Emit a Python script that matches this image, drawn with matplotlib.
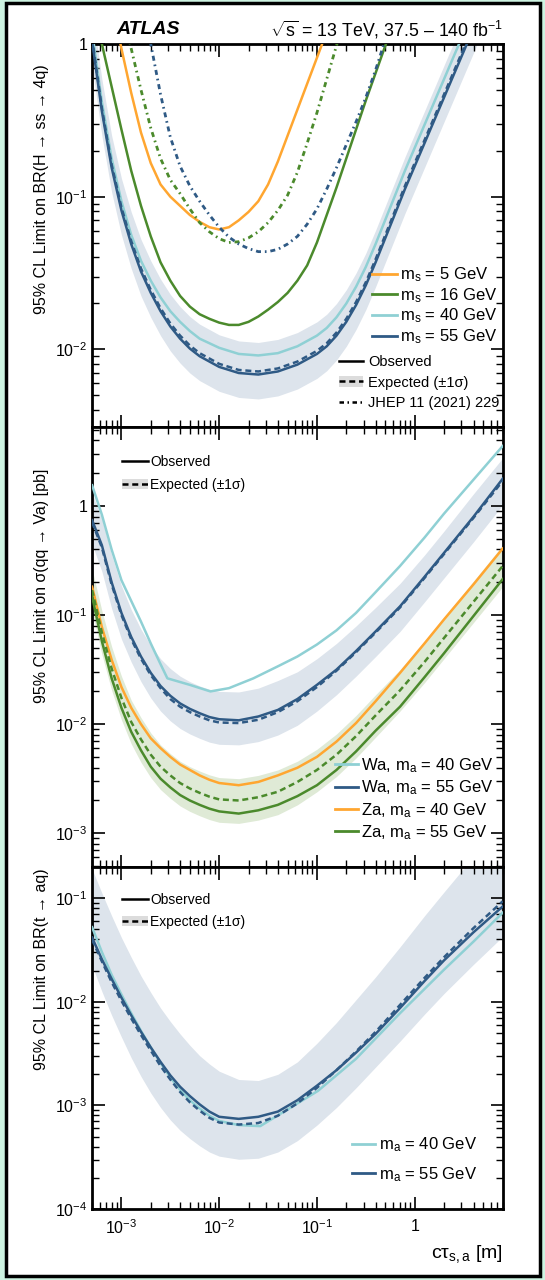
import numpy as np
import matplotlib
matplotlib.use("Agg")
import matplotlib.pyplot as plt
import matplotlib.ticker as mticker
from matplotlib.patches import Patch, Rectangle
from matplotlib.lines import Line2D

plt.rcParams['font.family'] = ['Liberation Sans', 'DejaVu Sans']
plt.rcParams['mathtext.fontset'] = 'custom'
plt.rcParams['mathtext.rm'] = 'Liberation Sans'
plt.rcParams['mathtext.it'] = 'Liberation Sans:italic'
plt.rcParams['mathtext.bf'] = 'Liberation Sans:bold'

# colours
c_orange = '#ffa630'
c_green = '#4b8a2c'
c_cyan = '#8fd0d4'
c_blue = '#2f5a85'
c_band = '#dde4ec'
c_gband = '#dfead6'

# ---------------- data (log10 of c*tau [m] and of the limits) ----------------
# panel 1 : BR(H -> ss -> 4q)
h_x = [-3.3, -3.2, -3.1, -3.0, -2.9, -2.8, -2.7, -2.6, -2.5, -2.4, -2.3, -2.2, -2.0, -1.8, -1.6,
       -1.4, -1.2, -1.0, -0.9, -0.8, -0.7, -0.6, -0.5, -0.4, -0.3, -0.2, -0.1, 0.0, 0.2, 0.4,
       0.6, 0.8, 0.9]
h55_obs = [0.02, -0.44, -0.81, -1.09, -1.31, -1.49, -1.63, -1.75, -1.85, -1.93, -1.995, -2.045,
           -2.115, -2.155, -2.165, -2.145, -2.10, -2.03, -1.98, -1.91, -1.82, -1.71, -1.58, -1.43,
           -1.27, -1.11, -0.95, -0.80, -0.50, -0.20, 0.10, 0.40, 0.55]
h55_exp = [0.04, -0.42, -0.79, -1.07, -1.29, -1.47, -1.61, -1.73, -1.83, -1.91, -1.975, -2.025,
           -2.095, -2.135, -2.145, -2.125, -2.08, -2.01, -1.96, -1.89, -1.80, -1.69, -1.56, -1.41,
           -1.25, -1.09, -0.93, -0.78, -0.48, -0.18, 0.12, 0.42, 0.57]
h55_up = [0.23, -0.23, -0.60, -0.88, -1.10, -1.28, -1.42, -1.54, -1.64, -1.72, -1.785, -1.835,
          -1.905, -1.945, -1.955, -1.935, -1.89, -1.82, -1.77, -1.70, -1.61, -1.50, -1.37, -1.22,
          -1.06, -0.90, -0.74, -0.59, -0.29, 0.01, 0.31, 0.61, 0.76]
h55_dn = [-0.14, -0.60, -0.97, -1.25, -1.47, -1.65, -1.79, -1.91, -2.01, -2.09, -2.155, -2.205,
          -2.275, -2.315, -2.325, -2.305, -2.26, -2.19, -2.14, -2.07, -1.98, -1.87, -1.74, -1.59,
          -1.43, -1.27, -1.11, -0.96, -0.66, -0.36, -0.06, 0.24, 0.39]
h40_obs = [0.08, -0.38, -0.75, -1.03, -1.25, -1.42, -1.55, -1.66, -1.75, -1.82, -1.88, -1.93,
           -1.99, -2.03, -2.04, -2.025, -1.98, -1.91, -1.86, -1.79, -1.70, -1.59, -1.46, -1.31,
           -1.15, -0.99, -0.83, -0.68, -0.38, -0.08, 0.22, 0.52, 0.67]

h16_x = [-3.3, -3.2, -3.1, -3.0, -2.9, -2.8, -2.7, -2.6, -2.5, -2.4, -2.3, -2.2, -2.1, -2.0, -1.9,
         -1.8, -1.7, -1.6, -1.5, -1.4, -1.3, -1.2, -1.1, -1.0, -0.9, -0.8, -0.7, -0.6, -0.5,
         -0.4, -0.3, -0.2]
h16_obs = [0.28, 0.0, -0.28, -0.56, -0.83, -1.06, -1.26, -1.43, -1.55, -1.65, -1.72, -1.77, -1.80,
           -1.825, -1.84, -1.84, -1.82, -1.785, -1.74, -1.69, -1.63, -1.55, -1.45, -1.30, -1.12,
           -0.94, -0.75, -0.56, -0.37, -0.19, -0.01, 0.17]

h5_x = [-3.1, -3.0, -2.9, -2.8, -2.7, -2.6, -2.5, -2.4, -2.3, -2.2, -2.1, -2.0, -1.9, -1.8, -1.7,
        -1.6, -1.5, -1.4, -1.3, -1.2, -1.1, -1.0, -0.9]
h5_obs = [0.27, -0.03, -0.32, -0.58, -0.78, -0.92, -1.00, -1.06, -1.12, -1.165, -1.20, -1.215,
          -1.20, -1.155, -1.10, -1.03, -0.92, -0.77, -0.60, -0.43, -0.26, -0.09, 0.08]

jhep16_x = [-3.0, -2.9, -2.8, -2.7, -2.6, -2.5, -2.4, -2.3, -2.2, -2.1, -2.0, -1.9, -1.8, -1.7,
            -1.6, -1.5, -1.4, -1.3, -1.2, -1.1, -1.0, -0.9, -0.8, -0.7]
jhep16 = [0.25, -0.03, -0.30, -0.55, -0.75, -0.89, -0.98, -1.08, -1.17, -1.23, -1.275, -1.30,
          -1.295, -1.27, -1.23, -1.17, -1.09, -0.99, -0.84, -0.65, -0.45, -0.23, -0.01, 0.20]
jhep55_x = [-2.8, -2.7, -2.6, -2.5, -2.4, -2.3, -2.2, -2.1, -2.0, -1.9, -1.8, -1.7, -1.6, -1.5,
            -1.4, -1.3, -1.2, -1.1, -1.0, -0.9, -0.8, -0.7, -0.6, -0.5, -0.4, -0.3]
jhep55 = [0.35, 0.0, -0.33, -0.61, -0.80, -0.93, -1.03, -1.12, -1.20, -1.265, -1.31, -1.34, -1.36,
          -1.36, -1.345, -1.31, -1.26, -1.18, -1.08, -0.95, -0.81, -0.66, -0.51, -0.35, -0.17, 0.03]

# panel 2 : sigma(qq -> Va) [pb]  and panel 3 : BR(t -> aq)
v_x = [-3.3, -3.2, -3.1, -3.0, -2.9, -2.8, -2.7, -2.6, -2.5, -2.4, -2.3, -2.2, -2.1, -2.0, -1.8,
       -1.6, -1.4, -1.2, -1.0, -0.8, -0.6, -0.4, -0.15, 0.1, 0.3, 0.6, 0.9]
wa40_x = [-3.3, -3.2, -3.1, -3.0, -2.9, -2.8, -2.7, -2.6, -2.53, -2.3, -2.09, -1.9, -1.65, -1.4,
          -1.2, -1.0, -0.8, -0.6, -0.4, -0.15, 0.1, 0.3, 0.6, 0.9]
wa40_obs = [0.19, -0.08, -0.40, -0.68, -0.87, -1.06, -1.26, -1.45, -1.58, -1.64, -1.70, -1.67,
            -1.58, -1.47, -1.38, -1.27, -1.14, -0.98, -0.79, -0.55, -0.29, -0.07, 0.24, 0.55]
wa55_obs = [-0.13, -0.36, -0.70, -0.98, -1.20, -1.38, -1.53, -1.65, -1.74, -1.81, -1.86, -1.90,
            -1.935, -1.955, -1.965, -1.93, -1.87, -1.77, -1.64, -1.50, -1.33, -1.15, -0.92, -0.65,
            -0.43, -0.10, 0.25]
wa55_exp = [-0.15, -0.38, -0.72, -1.00, -1.22, -1.40, -1.55, -1.67, -1.77, -1.84, -1.89, -1.93,
            -1.965, -1.985, -1.99, -1.96, -1.89, -1.79, -1.66, -1.51, -1.34, -1.16, -0.93, -0.66,
            -0.44, -0.11, 0.23]
wa55_up = [0.12, -0.12, -0.45, -0.73, -0.95, -1.13, -1.28, -1.40, -1.49, -1.56, -1.61, -1.65,
           -1.68, -1.70, -1.705, -1.67, -1.60, -1.52, -1.40, -1.26, -1.10, -0.93, -0.71, -0.45,
           -0.23, 0.11, 0.44]
wa55_dn = [-0.35, -0.60, -0.94, -1.22, -1.43, -1.61, -1.76, -1.88, -1.97, -2.04, -2.09, -2.13,
           -2.165, -2.185, -2.19, -2.16, -2.10, -2.01, -1.88, -1.73, -1.56, -1.38, -1.15, -0.88,
           -0.66, -0.33, 0.01]
za40_obs = [-0.74, -1.11, -1.41, -1.66, -1.85, -2.00, -2.13, -2.22, -2.30, -2.37, -2.42, -2.47,
            -2.51, -2.54, -2.56, -2.53, -2.47, -2.40, -2.30, -2.16, -1.99, -1.79, -1.53, -1.26,
            -1.04, -0.72, -0.39]
za55_obs = [-0.83, -1.24, -1.58, -1.85, -2.07, -2.24, -2.39, -2.50, -2.58, -2.65, -2.70, -2.74,
            -2.775, -2.80, -2.82, -2.79, -2.74, -2.66, -2.56, -2.42, -2.25, -2.06, -1.84, -1.57,
            -1.35, -1.01, -0.67]
za55_exp = [-0.77, -1.16, -1.49, -1.76, -1.98, -2.14, -2.28, -2.39, -2.47, -2.54, -2.59, -2.63,
            -2.665, -2.69, -2.70, -2.67, -2.62, -2.53, -2.42, -2.28, -2.11, -1.92, -1.69, -1.43,
            -1.21, -0.88, -0.55]
za55_up = [-0.58, -0.96, -1.29, -1.56, -1.78, -1.94, -2.08, -2.19, -2.27, -2.34, -2.39, -2.43,
           -2.465, -2.49, -2.50, -2.47, -2.42, -2.34, -2.23, -2.09, -1.92, -1.73, -1.50, -1.24,
           -1.02, -0.69, -0.36]
za55_dn = [-0.96, -1.36, -1.69, -1.96, -2.18, -2.35, -2.49, -2.60, -2.68, -2.75, -2.80, -2.84,
           -2.875, -2.90, -2.91, -2.88, -2.83, -2.74, -2.62, -2.48, -2.31, -2.12, -1.88, -1.62,
           -1.40, -1.07, -0.74]

t55_obs = [-1.38, -1.59, -1.78, -1.96, -2.13, -2.29, -2.44, -2.58, -2.71, -2.82, -2.91, -2.99,
           -3.06, -3.11, -3.13, -3.11, -3.06, -2.95, -2.81, -2.66, -2.49, -2.31, -2.06, -1.80,
           -1.60, -1.33, -1.08]
t55_exp = [-1.40, -1.61, -1.81, -1.99, -2.16, -2.32, -2.47, -2.62, -2.75, -2.87, -2.97, -3.05,
           -3.12, -3.165, -3.185, -3.17, -3.10, -2.98, -2.83, -2.66, -2.48, -2.29, -2.03, -1.77,
           -1.57, -1.29, -1.03]
t55_up = [-0.72, -0.95, -1.17, -1.38, -1.57, -1.75, -1.91, -2.06, -2.19, -2.31, -2.42, -2.52,
          -2.60, -2.67, -2.75, -2.76, -2.70, -2.58, -2.40, -2.20, -1.98, -1.76, -1.47, -1.17,
          -0.94, -0.60, -0.26]
t55_dn = [-1.65, -1.90, -2.13, -2.34, -2.54, -2.72, -2.88, -3.02, -3.14, -3.24, -3.32, -3.39,
          -3.45, -3.49, -3.52, -3.51, -3.45, -3.34, -3.19, -3.02, -2.83, -2.63, -2.38, -2.12,
          -1.92, -1.64, -1.37]
t40_x = [-3.3, -3.2, -3.1, -3.0, -2.9, -2.8, -2.7, -2.6, -2.5, -2.4, -2.3, -2.2, -2.1, -2.0, -1.8,
         -1.58, -0.99, -0.6, -0.15, 0.3, 0.6, 0.9]
t40_obs = [-1.28, -1.52, -1.74, -1.93, -2.11, -2.28, -2.44, -2.59, -2.73, -2.85, -2.95, -3.03,
           -3.10, -3.15, -3.19, -3.20, -2.86, -2.55, -2.11, -1.69, -1.42, -1.14]


def p(v):
    return 10.0 ** np.asarray(v)


def decade_fmt(val, pos):
    e = int(round(np.log10(val)))
    if e == 0:
        return '1'
    return r'$10^{%d}$' % e


fig = plt.figure(figsize=(5.45, 12.8), dpi=100)
fig.patch.set_facecolor('#cdf3e1')
fig.add_artist(Rectangle((6 / 545, 1 - 1276 / 1280), 534 / 545, 1273 / 1280,
                         transform=fig.transFigure, facecolor='white',
                         edgecolor='black', lw=2.5, zorder=-5))

L, W = 92 / 545, 411 / 545
ax1 = fig.add_axes([L, 1 - 427 / 1280, W, 383 / 1280])
ax2 = fig.add_axes([L, 1 - 867 / 1280, W, 440 / 1280])
ax3 = fig.add_axes([L, 1 - 1209 / 1280, W, 342 / 1280])

for ax in (ax1, ax2, ax3):
    ax.set_xscale('log')
    ax.set_yscale('log')
    ax.set_xlim(5e-4, 8)
    ax.xaxis.set_major_locator(mticker.LogLocator(base=10, numticks=20))
    ax.xaxis.set_minor_locator(mticker.LogLocator(base=10, subs=np.arange(2, 10), numticks=20))
    ax.yaxis.set_major_locator(mticker.LogLocator(base=10, numticks=20))
    ax.yaxis.set_minor_locator(mticker.LogLocator(base=10, subs=np.arange(2, 10), numticks=20))
    ax.yaxis.set_major_formatter(mticker.FuncFormatter(decade_fmt))
    ax.xaxis.set_major_formatter(mticker.FuncFormatter(decade_fmt))
    ax.yaxis.set_minor_formatter(mticker.NullFormatter())
    ax.xaxis.set_minor_formatter(mticker.NullFormatter())
    ax.tick_params(which='both', direction='in', top=True, right=True, labelsize=11.5)
    ax.tick_params(which='major', length=9, width=1.2)
    ax.tick_params(which='minor', length=5, width=1.0)
    for s in ax.spines.values():
        s.set_linewidth(2.0)

ax1.tick_params(labelbottom=False)
ax2.tick_params(labelbottom=False)
ax3.tick_params(axis='x', pad=7)

dash = (0, (2.4, 1.5))
dd = (0, (1.8, 1.4, 0.6, 1.4))

obs_h = Line2D([], [], color='black', lw=1.8)
exp_h = (Patch(facecolor='#dcdcdc', edgecolor='none'),
         Line2D([], [], color='black', lw=1.8, ls=dash))
jh_h = Line2D([], [], color='black', lw=1.8, ls=dd)

# ---------------- panel 1 ----------------
ax1.set_ylim(3.1e-3, 1)
ax1.fill_between(p(h_x), p(h55_dn), p(h55_up), color=c_band, lw=0, zorder=1)
ax1.plot(p(h5_x), p(h5_obs), color=c_orange, lw=1.8, zorder=3)
ax1.plot(p(h16_x), p(h16_obs), color=c_green, lw=1.8, zorder=3)
ax1.plot(p(h_x), p(h40_obs), color=c_cyan, lw=1.8, zorder=3)
ax1.plot(p(h_x), p(h55_obs), color=c_blue, lw=1.8, zorder=4)
ax1.plot(p(h_x), p(h55_exp), color=c_blue, lw=1.8, ls=dash, zorder=4)
ax1.plot(p(jhep16_x), p(jhep16), color=c_green, lw=2.0, ls=dd, zorder=3)
ax1.plot(p(jhep55_x), p(jhep55), color=c_blue, lw=2.0, ls=dd, zorder=3)

mass_h = [Line2D([], [], color=c, lw=2) for c in (c_orange, c_green, c_cyan, c_blue)]
mass_l = [r'$\mathrm{m_s}$ = 5 GeV', r'$\mathrm{m_s}$ = 16 GeV', r'$\mathrm{m_s}$ = 40 GeV',
          r'$\mathrm{m_s}$ = 55 GeV']
leg1 = ax1.legend(mass_h, mass_l, loc='upper left', bbox_to_anchor=(0.681, 0.422),
                  frameon=False, fontsize=12, handlelength=1.5, handletextpad=0.2,
                  labelspacing=0.12, borderaxespad=0, borderpad=0)
ax1.add_artist(leg1)
ax1.legend([obs_h, exp_h, jh_h], ['Observed', 'Expected (±1σ)', 'JHEP 11 (2021) 229'],
           loc='upper left', bbox_to_anchor=(0.6, 0.188), frameon=False, fontsize=10.5,
           handlelength=1.7, handletextpad=0.35, labelspacing=0.45, borderaxespad=0, borderpad=0)
ax1.set_ylabel('95% CL Limit on BR(H → ss → 4q)', fontsize=11.5)
ax1.yaxis.set_label_coords(-0.105, 0.62)

# ---------------- panel 2 ----------------
ax2.set_ylim(4.9e-4, 5.3)
ax2.fill_between(p(v_x), p(wa55_dn), p(wa55_up), color=c_band, lw=0, zorder=1)
ax2.fill_between(p(v_x), p(za55_dn), p(za55_up), color=c_gband, lw=0, zorder=1)
ax2.plot(p(wa40_x), p(wa40_obs), color=c_cyan, lw=1.8, zorder=3)
ax2.plot(p(v_x), p(wa55_obs), color=c_blue, lw=1.8, zorder=4)
ax2.plot(p(v_x), p(wa55_exp), color=c_blue, lw=1.8, ls=dash, zorder=4)
ax2.plot(p(v_x), p(za40_obs), color=c_orange, lw=1.8, zorder=3)
ax2.plot(p(v_x), p(za55_obs), color=c_green, lw=1.8, zorder=4)
ax2.plot(p(v_x), p(za55_exp), color=c_green, lw=1.8, ls=dash, zorder=4)

leg2 = ax2.legend([obs_h, exp_h], ['Observed', 'Expected (±1σ)'],
                  loc='upper left', bbox_to_anchor=(0.073, 0.936), frameon=False, fontsize=10,
                  handlelength=1.85, handletextpad=0.2, labelspacing=0.65, borderaxespad=0,
                  borderpad=0)
ax2.add_artist(leg2)
va_h = [Line2D([], [], color=c, lw=2) for c in (c_cyan, c_blue, c_orange, c_green)]
va_l = [r'Wa, $\mathrm{m_a}$ = 40 GeV', r'Wa, $\mathrm{m_a}$ = 55 GeV',
        r'Za, $\mathrm{m_a}$ = 40 GeV', r'Za, $\mathrm{m_a}$ = 55 GeV']
ax2.legend(va_h, va_l, loc='upper left', bbox_to_anchor=(0.591, 0.252), frameon=False,
           fontsize=12, handlelength=1.4, handletextpad=0.15, labelspacing=0.22,
           borderaxespad=0, borderpad=0)
ax2.set_ylabel('95% CL Limit on σ(qq → Va) [pb]', fontsize=11.5)
ax2.yaxis.set_label_coords(-0.105, 0.64)

# ---------------- panel 3 ----------------
ax3.set_ylim(1e-4, 0.2)
ax3.fill_between(p(v_x), p(t55_dn), p(t55_up), color=c_band, lw=0, zorder=1)
ax3.plot(p(t40_x), p(t40_obs), color=c_cyan, lw=1.8, zorder=3)
ax3.plot(p(v_x), p(t55_obs), color=c_blue, lw=1.8, zorder=4)
ax3.plot(p(v_x), p(t55_exp), color=c_blue, lw=1.8, ls=dash, zorder=4)

leg3 = ax3.legend([obs_h, exp_h], ['Observed', 'Expected (±1σ)'],
                  loc='upper left', bbox_to_anchor=(0.073, 0.924), frameon=False, fontsize=10,
                  handlelength=1.85, handletextpad=0.2, labelspacing=0.55, borderaxespad=0,
                  borderpad=0)
ax3.add_artist(leg3)
ta_h = [Line2D([], [], color=c, lw=2) for c in (c_cyan, c_blue)]
ax3.legend(ta_h, [r'$\mathrm{m_a}$ = 40 GeV', r'$\mathrm{m_a}$ = 55 GeV'], loc='upper left',
           bbox_to_anchor=(0.633, 0.215), frameon=False, fontsize=12, handlelength=1.4,
           handletextpad=0.2, labelspacing=0.65, borderaxespad=0, borderpad=0)
ax3.set_ylabel('95% CL Limit on BR(t → aq)', fontsize=11.5)
ax3.yaxis.set_label_coords(-0.105, 0.70)
ax3.set_xlabel(r'cτ$_{\mathrm{s,a}}$ [m]', fontsize=14, loc='right', labelpad=4)

fig.text(148 / 545, 1 - 30 / 1280, 'ATLAS', fontsize=14, fontweight='bold',
         fontstyle='italic', ha='center', va='center')
fig.text(503 / 545, 1 - 30 / 1280, r'$\sqrt{\mathrm{s}}$ = 13 TeV, 37.5 – 140 fb$^{-1}$',
         fontsize=12.8, ha='right', va='center')

fig.savefig('out.png', dpi=100, facecolor=fig.get_facecolor())
